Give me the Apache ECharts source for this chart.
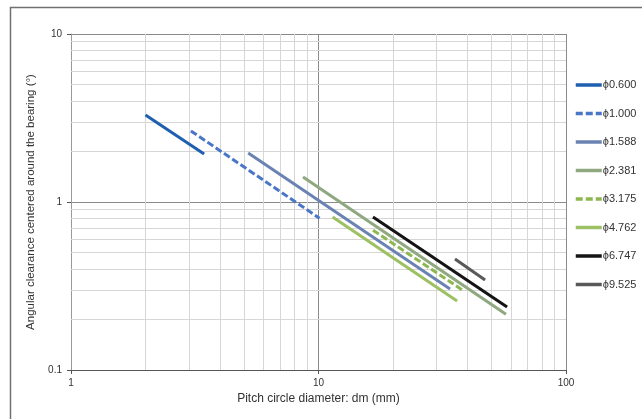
<!DOCTYPE html>
<html>
<head>
<meta charset="utf-8">
<script src="https://cdn.jsdelivr.net/npm/echarts@6/dist/echarts.min.js"></script>
<style>html,body{margin:0;padding:0;background:#fff;}#c{width:642px;height:419px;}</style>
</head>
<body>
<div id="c"></div>
<script>
// Data (dm in mm, angular clearance in degrees)
const seriesNames = ['ϕ0.600','ϕ1.000','ϕ1.588','ϕ2.381','ϕ3.175','ϕ4.762','ϕ6.747','ϕ9.525'];
const dmStart  = [2.0, 3.05, 5.2, 8.66, 16.6, 11.4, 16.6, 35.6];
const angStart = [3.3, 2.65, 1.96, 1.41, 0.68, 0.814, 0.814, 0.458];
const dmEnd    = [3.45, 10.1, 34, 57.2, 38.7, 36.3, 57.8, 47.1];
const angEnd   = [1.93, 0.80, 0.303, 0.215, 0.295, 0.2575, 0.237, 0.343];
const xMinorTicks = [2,3,4,5,6,7,8,9,20,30,40,50,60,70,80,90];
const yMinorTicks = [0.2,0.3,0.4,0.5,0.6,0.7,0.8,0.9,2,3,4,5,6,7,8,9];

const colors = ['#1f5fb0','#4a76c8','#6b83b3','#8fa880','#8db74f','#9cc063','#141414','#595959'];
const dashed = [false,true,false,false,true,false,false,false];

const FONT = '"Liberation Sans Narrow","Arial Narrow","Liberation Sans",Arial,sans-serif';

const chart = echarts.init(document.getElementById('c'), null, {renderer:'canvas'});

const dataSeries = seriesNames.map((n,i)=>({
  name: n,
  type: 'line',
  symbol: 'none',
  z: 5,
  silent: true,
  animation: false,
  color: colors[i],
  lineStyle: {color: colors[i], width: 3, type: dashed[i] ? [7,3] : 'solid', cap: 'butt'},
  data: [[dmStart[i], angStart[i]], [dmEnd[i], angEnd[i]]]
}));

const gridSeries = {
  name: 'minorgrid',
  type: 'line',
  data: [],
  z: 1,
  silent: true,
  animation: false,
  markLine: {
    silent: true,
    symbol: 'none',
    animation: false,
    label: {show: false},
    lineStyle: {color: '#d6d6d6', width: 1, type: 'solid'},
    data: xMinorTicks.map(v=>({xAxis: v})).concat(yMinorTicks.map(v=>({yAxis: v})))
  }
};

chart.setOption({
  animation: false,
  backgroundColor: '#fff',
  textStyle: {fontFamily: FONT},
  graphic: [{
    type: 'rect', silent: true, z: -10,
    shape: {x: 10.5, y: 7.5, width: 700, height: 500},
    style: {fill: 'none', stroke: '#707070', lineWidth: 1.5}
  }],
  grid: {left: 71, top: 34, right: 76, bottom: 49, containLabel: false},
  legend: {
    orient: 'vertical',
    left: 569, top: 73,
    itemWidth: 26, itemHeight: 14, itemGap: 14.5,
    itemStyle: {opacity: 0},
    lineStyle: {width: 3.5},
    data: seriesNames,
    textStyle: {fontFamily: FONT, fontSize: 11, color: '#333', lineHeight: 14, padding: [0,0,0,-4]}
  },
  xAxis: {
    type: 'log', logBase: 10, min: 1, max: 100,
    name: 'Pitch circle diameter: dm (mm)',
    nameLocation: 'middle', nameGap: 17,
    nameTextStyle: {fontFamily: FONT, fontSize: 12, color: '#333'},
    axisLine: {show: true, lineStyle: {color: '#555', width: 1}},
    axisTick: {show: true, length: 4, lineStyle: {color: '#555'}},
    axisLabel: {fontFamily: FONT, fontSize: 10, color: '#333', margin: 8},
    splitLine: {show: true, lineStyle: {color: '#8a8a8a', width: 1}},
    minorTick: {show: false}, minorSplitLine: {show: false}
  },
  yAxis: {
    type: 'log', logBase: 10, min: 0.1, max: 10,
    name: 'Angular clearance centered around the bearing (°)',
    nameLocation: 'middle', nameGap: 33,
    nameTextStyle: {fontFamily: FONT, fontSize: 11.5, color: '#333'},
    axisLine: {show: true, lineStyle: {color: '#999', width: 1}},
    axisTick: {show: true, length: 4, lineStyle: {color: '#555'}},
    axisLabel: {fontFamily: FONT, fontSize: 10, color: '#333', margin: 9,
      formatter: v => (v < 1 ? v.toFixed(1) : String(Math.round(v)))},
    splitLine: {show: true, lineStyle: {color: '#8a8a8a', width: 1}},
    minorTick: {show: false}, minorSplitLine: {show: false}
  },
  series: [gridSeries].concat(dataSeries)
});
</script>
</body>
</html>
